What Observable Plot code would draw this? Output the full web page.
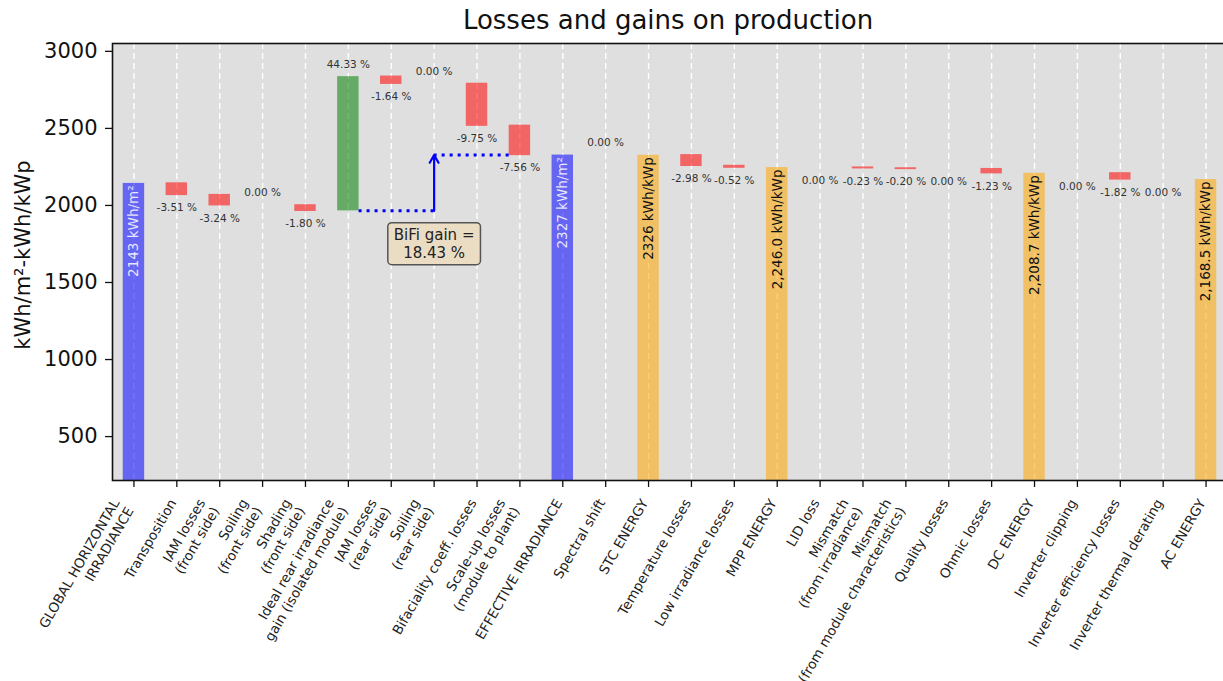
<!DOCTYPE html>
<html><head><meta charset="utf-8">
<script src="https://cdn.jsdelivr.net/npm/d3@7"></script>
<script src="https://cdn.jsdelivr.net/npm/@observablehq/plot@0.6"></script>
<style>
html,body{margin:0;padding:0;background:#fff;overflow:hidden;}
#title{position:relative;height:40px;font-family:"DejaVu Sans";}
#title span{position:absolute;left:668px;top:7px;transform:translateX(-50%);font-size:26px;line-height:1;white-space:nowrap;color:#111;}
#chart svg{overflow:visible;}
</style></head><body>
<div id="title"><span>Losses and gains on production</span></div>
<div id="chart"></div>
<script>
// ---- data ----
const categories = [
  "GLOBAL HORIZONTAL\nIRRADIANCE", "Transposition", "IAM losses\n(front side)", "Soiling\n(front side)",
  "Shading\n(front side)", "Ideal rear irradiance\ngain (isolated module)", "IAM losses\n(rear side)",
  "Soiling\n(rear side)", "Bifaciality coeff. losses", "Scale-up losses\n(module to plant)",
  "EFFECTIVE IRRADIANCE", "Spectral shift", "STC ENERGY", "Temperature losses", "Low irradiance losses",
  "MPP ENERGY", "LID loss", "Mismatch\n(from irradiance)", "Mismatch\n(from module characteristics)",
  "Quality losses", "Ohmic losses", "DC ENERGY", "Inverter clipping", "Inverter efficiency losses",
  "Inverter thermal derating", "AC ENERGY"
];
const kinds = [
  "irradiance", "step", "step", "step", "step", "step", "step", "step", "step", "step",
  "irradiance", "step", "energy", "step", "step", "energy", "step", "step", "step",
  "step", "step", "energy", "step", "step", "step", "energy"
];
const percents = [
  null, -3.51, -3.24, 0, -1.80, 44.33, -1.64, 0, -9.75, -7.56,
  null, 0, null, -2.98, -0.52, null, -0, -0.23, -0.20,
  -0, -1.23, null, -0, -1.82, -0, null
];
const levels = [
  2143, 2067.8, 2000.8, 2000.8, 1964.8, 2835.8, 2789.3, 2789.3, 2517.3, 2327,
  2327, 2327, 2326, 2256.7, 2245.0, 2246.0, 2246.0, 2240.8, 2236.3,
  2236.3, 2208.8, 2208.7, 2208.7, 2168.5, 2168.5, 2168.5
];
const totalLabels = [
  "2143 kWh/m²", null, null, null, null, null, null, null, null, null,
  "2327 kWh/m²", null, "2326 kWh/kWp", null, null, "2,246.0 kWh/kWp", null, null, null,
  null, null, "2,208.7 kWh/kWp", null, null, null, "2,168.5 kWh/kWp"
];
const yTicks = [500, 1000, 1500, 2000, 2500, 3000];
const yLabel = "kWh/m²-kWh/kWp";
const bifiGain = 18.43;

// ---- derived rows ----
const halfBar = 0.25;
const rows = categories.map((name, i) => {
  const kind = kinds[i];
  const prev = i > 0 ? levels[i - 1] : 0;
  const isStep = kind === "step";
  return {
    i, name, kind, pct: percents[i], level: levels[i], total: totalLabels[i],
    lo: isStep ? Math.min(prev, levels[i]) : 0,
    hi: isStep ? Math.max(prev, levels[i]) : levels[i]
  };
});
const idx = rows.map(d => d.i);
const steps = rows.filter(d => d.kind === "step");
const losses = steps.filter(d => d.pct < 0);
const gains = steps.filter(d => d.pct > 0);
const above = steps.filter(d => d.pct > 0 || Object.is(d.pct, 0));
const below = steps.filter(d => d.pct < 0 || Object.is(d.pct, -0));
const fmtPct = d => d.pct.toFixed(2) + " %";

const gainIdx = categories.indexOf("Ideal rear irradiance\ngain (isolated module)");
const pivotIdx = categories.indexOf("Soiling\n(rear side)");
const effIdx = categories.indexOf("EFFECTIVE IRRADIANCE");
const baseLevel = levels[gainIdx - 1];
const topLevel = levels[effIdx];

const bar = (data, fill, extra = {}) => Plot.rectY(data, {
  x1: d => d.i - halfBar, x2: d => d.i + halfBar, y1: "lo", y2: "hi",
  fill, fillOpacity: 0.55, clip: true, ...extra
});

const svg = Plot.plot({
  width: 1223, height: 641,
  marginTop: 3, marginBottom: 201, marginLeft: 112, marginRight: -4,
  style: {fontFamily: "DejaVu Sans", background: "transparent", overflow: "visible"},
  x: {type: "linear", domain: [-0.5, categories.length - 0.5]},
  y: {domain: [215, 3051]},
  marks: [
    Plot.frame({fill: "#dfdfdf"}),
    Plot.ruleX(idx, {x: d => d, stroke: "white", strokeWidth: 1.4, strokeDasharray: "6,4"}),
    bar(rows.filter(d => d.kind === "irradiance"), "blue"),
    bar(rows.filter(d => d.kind === "energy"), "orange"),
    bar(losses, "red", {insetTop: -0.6, insetBottom: -0.6}),
    bar(gains, "green"),
    // percent labels
    Plot.text(above, {x: "i", y: "hi", text: fmtPct, dy: -12.5, fontSize: 10.5, fill: "#333"}),
    Plot.text(below, {x: "i", y: "lo", text: fmtPct, dy: 13, fontSize: 10.5, fill: "#333"}),
    // total labels
    Plot.text(rows.filter(d => d.kind === "irradiance"), {x: "i", y: "level", text: "total", rotate: -90,
      textAnchor: "end", lineAnchor: "middle", dy: 2, fontSize: 13.5, fill: "white", fillOpacity: 0.85}),
    Plot.text(rows.filter(d => d.kind === "energy"), {x: "i", y: "level", text: "total", rotate: -90,
      textAnchor: "end", lineAnchor: "middle", dy: 2, fontSize: 13.5, fill: "#111"}),
    // BiFi annotation
    Plot.ruleY([baseLevel], {y: d => d, x1: () => gainIdx + halfBar, x2: () => pivotIdx,
      stroke: "blue", strokeWidth: 3, strokeDasharray: "3,5"}),
    Plot.ruleY([topLevel], {y: d => d, x1: () => pivotIdx, x2: () => effIdx - 1 - halfBar,
      stroke: "blue", strokeWidth: 3, strokeDasharray: "3,5"}),
    Plot.arrow([{x: pivotIdx, y1: baseLevel, y2: topLevel}], {x1: "x", x2: "x", y1: "y1", y2: "y2",
      stroke: "blue", strokeWidth: 2.2, headLength: 6}),
    Plot.text([`BiFi gain =\n${bifiGain.toFixed(2)} %`], {x: () => pivotIdx, y: () => baseLevel, dy: 32,
      lineAnchor: "middle", lineHeight: 1.2, fontSize: 15, fill: "#222"}),
    // axes
    Plot.axisY(yTicks, {tickSize: 7, tickPadding: 8, fontSize: 21, tickFormat: d3.format("d"),
      label: null, stroke: "#111", strokeWidth: 1.3, color: "#111"}),
    Plot.axisX(idx, {tickSize: 7, tickFormat: () => "", label: null, stroke: "#111", strokeWidth: 1.3}),
    Plot.text(idx.filter(i => !categories[i].includes("\n")), {x: d => d, text: d => categories[d],
      frameAnchor: "bottom", rotate: -60, textAnchor: "end", lineAnchor: "bottom", dy: 22,
      fontSize: 13.5, lineHeight: 1.2, fill: "#222"}),
    Plot.text(idx.filter(i => categories[i].includes("\n")), {x: d => d, text: d => categories[d],
      frameAnchor: "bottom", rotate: -60, textAnchor: "end", lineAnchor: "bottom", dy: 30,
      fontSize: 13.5, lineHeight: 1.2, fill: "#222"}),
    Plot.text([yLabel], {frameAnchor: "left", dx: -89, dy: -7, rotate: -90, textAnchor: "middle",
      lineAnchor: "middle", fontSize: 21, fill: "#111"}),
    Plot.frame({stroke: "#111", strokeWidth: 1.6})
  ]
});
document.getElementById("chart").append(svg);

// box behind the BiFi annotation
svg.querySelectorAll("text").forEach(t => {
  if (t.textContent.startsWith("BiFi")) {
    const b = t.getBBox();
    const r = document.createElementNS("http://www.w3.org/2000/svg", "rect");
    r.setAttribute("x", b.x - 6); r.setAttribute("y", b.y - 3);
    r.setAttribute("width", b.width + 12); r.setAttribute("height", b.height + 6);
    r.setAttribute("rx", 4); r.setAttribute("fill", "#ebdcc4");
    r.setAttribute("stroke", "#555"); r.setAttribute("stroke-width", 1.5);
    if (t.getAttribute("transform")) r.setAttribute("transform", t.getAttribute("transform"));
    t.parentNode.insertBefore(r, t);
  }
});
</script></body></html>
